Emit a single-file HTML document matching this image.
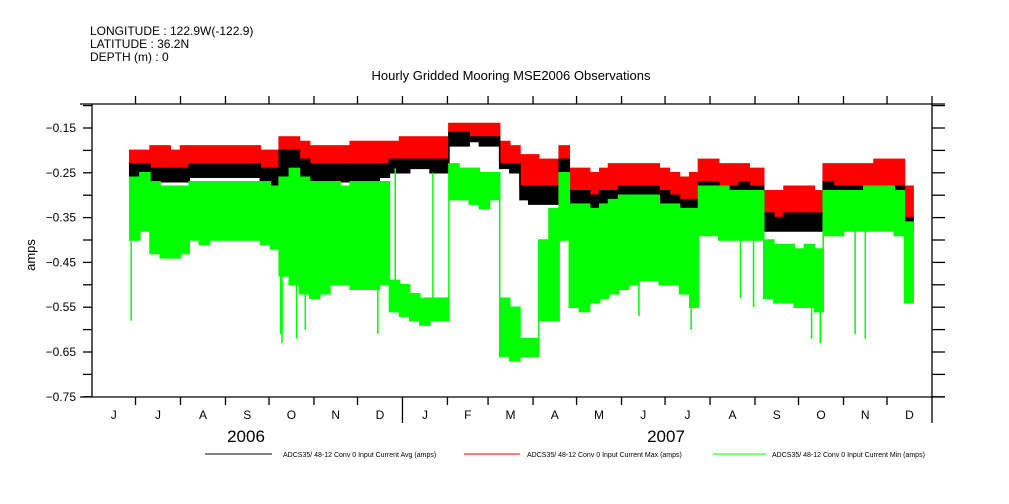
<!DOCTYPE html>
<html><head><meta charset="utf-8"><style>
body{margin:0;background:#fff;}
svg{display:block;font-family:"Liberation Sans",sans-serif;}
</style></head><body>
<svg id="chart" width="1009" height="504" viewBox="0 0 1009 504" xmlns="http://www.w3.org/2000/svg">
<rect width="1009" height="504" fill="#fff"/>
<text x="90" y="35" font-size="12">LONGITUDE : 122.9W(-122.9)</text>
<text x="90" y="48" font-size="12">LATITUDE : 36.2N</text>
<text x="90" y="61" font-size="12">DEPTH (m) : 0</text>
<text x="511" y="80" font-size="13" text-anchor="middle">Hourly Gridded Mooring MSE2006 Observations</text>
<text x="0" y="0" font-size="13" text-anchor="middle" transform="translate(35,255) rotate(-90)">amps</text>
<g id="series"></g>
<g id="axes"></g>
<text x="246" y="442" font-size="17" text-anchor="middle">2006</text>
<text x="666" y="442" font-size="17" text-anchor="middle">2007</text>
<g font-size="7">
<g><line x1="205" y1="454" x2="272" y2="454" stroke="#000"/><text x="283" y="457">ADCS35/ 48-12 Conv 0 Input Current Avg (amps)</text></g>
<g><line x1="464" y1="454" x2="520" y2="454" stroke="#f00"/><text x="527" y="457">ADCS35/ 48-12 Conv 0 Input Current Max (amps)</text></g>
<g><line x1="713" y1="454" x2="766" y2="454" stroke="#0f0"/><text x="772" y="457">ADCS35/ 48-12 Conv 0 Input Current Min (amps)</text></g>
</g>
</svg>
<script>
// days since 2006-06-01
const days=[26,33,40,47,54,61,67,74,81,88,95,102,109,116,123,129,136,143,150,157,164,171,178,184,191,198,205,212,219,226,233,240,246,253,260,267,274,281,288,295,301,308,315,322,329,336,343,350,356,363,370,377,384,391,398,405,412,418,425,432,439,446,453,463,470,477,484,491,498,504,511,518,525,532,539,546,553,560];
const maxHi=[-0.20,-0.20,-0.19,-0.19,-0.20,-0.19,-0.19,-0.19,-0.19,-0.19,-0.19,-0.19,-0.19,-0.20,-0.20,-0.17,-0.17,-0.18,-0.19,-0.19,-0.19,-0.19,-0.18,-0.18,-0.18,-0.18,-0.18,-0.17,-0.17,-0.17,-0.17,-0.17,-0.14,-0.14,-0.14,-0.14,-0.14,-0.18,-0.19,-0.21,-0.21,-0.22,-0.22,-0.19,-0.24,-0.24,-0.25,-0.24,-0.23,-0.23,-0.23,-0.23,-0.23,-0.24,-0.25,-0.26,-0.25,-0.22,-0.22,-0.23,-0.23,-0.23,-0.24,-0.29,-0.29,-0.28,-0.28,-0.28,-0.29,-0.23,-0.23,-0.23,-0.23,-0.23,-0.22,-0.22,-0.22,-0.28];
const avgHi=[-0.23,-0.23,-0.24,-0.24,-0.24,-0.24,-0.23,-0.23,-0.23,-0.23,-0.23,-0.23,-0.23,-0.24,-0.24,-0.20,-0.20,-0.22,-0.23,-0.23,-0.23,-0.23,-0.23,-0.23,-0.23,-0.23,-0.22,-0.22,-0.22,-0.22,-0.22,-0.22,-0.16,-0.16,-0.17,-0.17,-0.17,-0.23,-0.23,-0.28,-0.28,-0.28,-0.28,-0.22,-0.29,-0.29,-0.30,-0.29,-0.29,-0.28,-0.28,-0.28,-0.28,-0.29,-0.30,-0.31,-0.31,-0.27,-0.27,-0.28,-0.28,-0.27,-0.28,-0.34,-0.35,-0.34,-0.34,-0.34,-0.34,-0.27,-0.28,-0.28,-0.28,-0.28,-0.28,-0.28,-0.28,-0.35];
const avgLo=[-0.27,-0.26,-0.27,-0.27,-0.27,-0.27,-0.26,-0.26,-0.26,-0.26,-0.26,-0.26,-0.26,-0.27,-0.28,-0.28,-0.27,-0.27,-0.27,-0.27,-0.27,-0.27,-0.27,-0.27,-0.27,-0.26,-0.25,-0.25,-0.24,-0.24,-0.25,-0.25,-0.19,-0.19,-0.18,-0.19,-0.19,-0.24,-0.25,-0.31,-0.32,-0.32,-0.32,-0.26,-0.33,-0.33,-0.33,-0.33,-0.32,-0.32,-0.31,-0.31,-0.31,-0.32,-0.33,-0.34,-0.35,-0.30,-0.30,-0.30,-0.30,-0.30,-0.30,-0.38,-0.38,-0.38,-0.38,-0.38,-0.38,-0.30,-0.31,-0.31,-0.31,-0.31,-0.31,-0.31,-0.31,-0.38];
const minHi=[-0.26,-0.25,-0.27,-0.28,-0.28,-0.28,-0.27,-0.27,-0.27,-0.27,-0.27,-0.27,-0.27,-0.27,-0.28,-0.26,-0.24,-0.26,-0.27,-0.27,-0.27,-0.28,-0.27,-0.27,-0.27,-0.27,-0.49,-0.50,-0.52,-0.53,-0.53,-0.53,-0.23,-0.24,-0.24,-0.25,-0.25,-0.53,-0.55,-0.62,-0.62,-0.40,-0.33,-0.25,-0.32,-0.32,-0.33,-0.32,-0.31,-0.30,-0.30,-0.30,-0.30,-0.32,-0.32,-0.33,-0.33,-0.28,-0.28,-0.28,-0.29,-0.29,-0.29,-0.40,-0.41,-0.41,-0.42,-0.41,-0.42,-0.29,-0.29,-0.29,-0.29,-0.28,-0.28,-0.28,-0.29,-0.36];
const minLo=[-0.40,-0.38,-0.43,-0.44,-0.44,-0.43,-0.40,-0.41,-0.40,-0.40,-0.40,-0.40,-0.40,-0.41,-0.42,-0.48,-0.50,-0.52,-0.53,-0.52,-0.50,-0.50,-0.51,-0.51,-0.51,-0.50,-0.56,-0.57,-0.58,-0.59,-0.58,-0.58,-0.31,-0.31,-0.32,-0.33,-0.31,-0.66,-0.67,-0.66,-0.66,-0.58,-0.58,-0.40,-0.55,-0.56,-0.54,-0.53,-0.52,-0.51,-0.50,-0.49,-0.49,-0.50,-0.50,-0.52,-0.55,-0.39,-0.39,-0.40,-0.40,-0.40,-0.40,-0.53,-0.54,-0.54,-0.55,-0.55,-0.56,-0.39,-0.39,-0.38,-0.38,-0.38,-0.38,-0.38,-0.39,-0.54];
const endDay=566;
// isolated spikes in the min series
const spikeDays=[27,130,131,141,147,197,209,235,377,413,447,456,496,502,526,533];
const spikeFrom=[-0.30,-0.30,-0.30,-0.30,-0.30,-0.30,-0.55,-0.55,-0.40,-0.40,-0.35,-0.35,-0.50,-0.50,-0.35,-0.35];
const spikeTo=[-0.58,-0.61,-0.63,-0.62,-0.60,-0.61,-0.24,-0.25,-0.57,-0.60,-0.53,-0.55,-0.62,-0.63,-0.61,-0.62];
const yTicks=[-0.15,-0.25,-0.35,-0.45,-0.55,-0.65,-0.75];
const monthLabels=["J","J","A","S","O","N","D","J","F","M","A","M","J","J","A","S","O","N","D"];
const monthLengths=[30,31,31,30,31,30,31,31,28,31,30,31,30,31,31,30,31,30,31];

const NS="http://www.w3.org/2000/svg";
const X0=92,X1=932,Y0=104,Y1=397;
const totalDays=monthLengths.reduce((a,b)=>a+b,0);
function xs(d){return X0+d*(X1-X0)/totalDays;}
function ys(v){return 128+(-0.15-v)/0.1*44.8;}
function mk(tag,attrs,parent){const e=document.createElementNS(NS,tag);for(const k in attrs)e.setAttribute(k,attrs[k]);parent.appendChild(e);return e;}

const ser=document.getElementById('series');
function band(hi,lo,color,name){
  let top=[],bot=[];
  for(let i=0;i<days.length;i++){
    const a=xs(days[i]),b=xs(i+1<days.length?days[i+1]:endDay);
    top.push(a+','+ys(hi[i]),b+','+ys(hi[i]));
    bot.unshift(b+','+ys(lo[i]),a+','+ys(lo[i]));
  }
  const p=mk('polygon',{points:top.concat(bot).join(' '),fill:color,stroke:color,'stroke-width':1.5},ser);
  
  
}
band(maxHi,avgHi,'#f00','series-max');
band(avgHi,avgLo,'#000','series-avg');
band(minHi,minLo,'#0f0','series-min');
spikeDays.forEach((sd,i)=>{
  const l=mk('line',{x1:xs(sd),y1:ys(spikeFrom[i]),x2:xs(sd),y2:ys(spikeTo[i]),stroke:'#0f0','stroke-width':1.5},ser);
  
  
});

const ax=document.getElementById('axes');
const st={stroke:'#000','stroke-width':1.3};
mk('line',Object.assign({x1:80,y1:Y0,x2:945,y2:Y0},st),ax);
mk('line',Object.assign({x1:80,y1:Y1,x2:945,y2:Y1},st),ax);
mk('line',Object.assign({x1:X0,y1:Y0,x2:X0,y2:Y1},st),ax);
mk('line',Object.assign({x1:X1,y1:Y0,x2:X1,y2:Y1},st),ax);
for(let v=-0.10;v>=-0.7501;v-=0.05){
  const y=ys(v);
  mk('line',Object.assign({x1:83,y1:y,x2:X0,y2:y},st),ax);
  mk('line',Object.assign({x1:X1,y1:y,x2:945,y2:y},st),ax);
}
yTicks.forEach(v=>{
  const t=mk('text',{x:76,y:ys(v)+4,'font-size':12,'text-anchor':'end'},ax);
  t.textContent=v.toFixed(2).replace('-','\u2212');
  
  
});
let d=0;
monthLabels.forEach((m,i)=>{
  const mid=xs(d+monthLengths[i]/2);
  const t=mk('text',{x:mid,y:419,'font-size':12,'text-anchor':'middle'},ax);
  t.textContent=m;
  
  
  d+=monthLengths[i];
  const x=xs(d);
  const long=(i===6||i===18);
  mk('line',Object.assign({x1:x,y1:Y1,x2:x,y2:long?423:405},st),ax);
  mk('line',Object.assign({x1:x,y1:Y0-8,x2:x,y2:Y0},st),ax);
});
</script>
</body></html>
